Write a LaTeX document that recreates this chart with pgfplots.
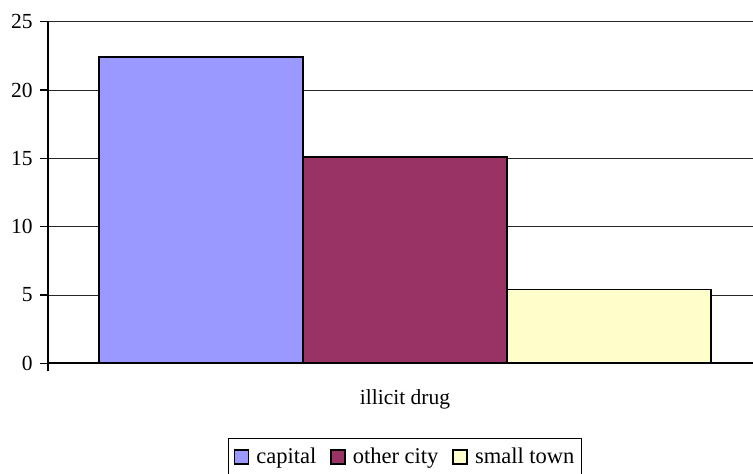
\documentclass[border=0pt]{standalone}
\usepackage{fontspec}
\setmainfont{Liberation Serif}
\usepackage{pgfplots}
\pgfplotsset{compat=1.18}
\definecolor{capital}{HTML}{9999FF}
\definecolor{othercity}{HTML}{993366}
\definecolor{smalltown}{HTML}{FFFFCC}
\newcommand{\chartfont}{\rmfamily\fontsize{21.5bp}{25bp}\selectfont}
\newcommand{\legendfont}{\rmfamily\fontsize{22.5bp}{26bp}\selectfont}
\pgfplotsset{
  xlbar/.style={ybar, bar width=1, bar shift=0pt, draw=black, line width=1.6bp,
    legend image code/.code={\draw[##1, line width=1.6bp] (0bp,-7bp) rectangle (14bp,7bp);}},
}
\begin{document}
\chartfont
\begin{tikzpicture}
\path[use as bounding box] (0,0) rectangle (753bp,474bp);
\begin{axis}[
  at={(48bp,110.7bp)}, anchor=south west,
  scale only axis, width=705bp, height=341.6bp,
  xmin=-0.25, xmax=3.206, ymin=0, ymax=25,
  axis x line*=bottom, axis y line*=left,
  axis line style={line width=1.8bp, -},
  every outer x axis line/.append style={-},
  every outer y axis line/.append style={-},
  ytick={0,5,...,25},
  ymajorgrids, grid style={black!85, line width=0.9bp},
  tick align=outside, major tick length=8bp,
  tick style={black, line width=1.4bp},
  xtick={-0.25}, xticklabels={},
  extra x ticks={1.5}, extra x tick labels={illicit drug},
  extra x tick style={major tick length=0pt, xticklabel style={yshift=-19bp}},
  /pgf/number format/assume math mode=true,
  every tick label/.append style={font=\chartfont},
  legend columns=3,
  legend style={at={(axis description cs:0.2553,-0.2187)}, anchor=north west,
    draw=black, line width=1.4bp, font=\legendfont, inner xsep=5bp, inner ysep=7bp,
    /tikz/every odd column/.append style={column sep=5bp},
    /tikz/every even column/.append style={column sep=12bp}},
  legend cell align=left,
]
\addplot[xlbar, fill=capital] coordinates {(0.5,22.4)};
\addplot[xlbar, fill=othercity] coordinates {(1.5,15.1)};
\addplot[xlbar, fill=smalltown] coordinates {(2.5,5.4)};
\legend{capital, other city, small town}
\end{axis}
\end{tikzpicture}
\end{document}
